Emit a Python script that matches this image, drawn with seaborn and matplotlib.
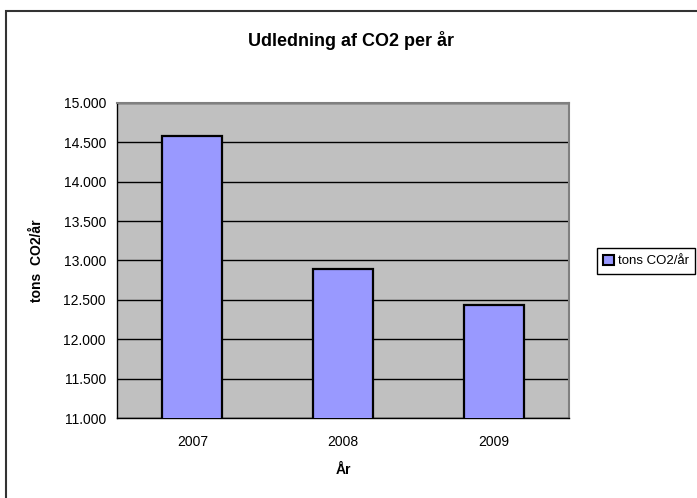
import seaborn as sns
import matplotlib.pyplot as plt
import matplotlib.patches as mpatches
from matplotlib.ticker import FuncFormatter, FixedLocator
import pandas as pd

years = ['2007', '2008', '2009']
co2_tons = [14580, 12890, 12430]
series_name = 'tons CO2/år'

df = pd.DataFrame({'year': years, 'co2': co2_tons})

sns.set_style('white')
plt.rcParams['font.family'] = ['Liberation Sans', 'DejaVu Sans']
plt.rcParams['text.color'] = 'black'
plt.rcParams['axes.labelcolor'] = 'black'
plt.rcParams['xtick.color'] = 'black'
plt.rcParams['ytick.color'] = 'black'

fig = plt.figure(figsize=(6.97, 4.98), dpi=100)
ax = fig.add_axes([117 / 697, 1 - 418 / 498, 452 / 697, 315 / 498])
ax.set_facecolor('#C0C0C0')

sns.barplot(data=df, x='year', y='co2', ax=ax, width=0.4, color='#9999FF',
            edgecolor='black', linewidth=1.6, saturation=1, zorder=3)

ax.set_ylim(11000, 15000)
ax.set_xlim(-0.5, 2.5)
ax.set_yticks(range(11000, 15001, 500))
ax.yaxis.set_major_formatter(FuncFormatter(lambda v, p: f'{int(v):,}'.replace(',', '.')))
ax.yaxis.grid(True, color='black', linewidth=1, zorder=1)
ax.set_axisbelow(True)

# x ticks between categories, labels at centres
ax.xaxis.set_minor_locator(FixedLocator([-0.5, 0.5, 1.5, 2.5]))
ax.tick_params(axis='x', which='major', length=0, labelsize=10, pad=12)
ax.tick_params(axis='x', which='minor', length=5, width=1, color='black', direction='out')
ax.tick_params(axis='y', length=5, width=1, color='black', direction='out', labelsize=10, pad=3)

for s in ['left', 'bottom']:
    ax.spines[s].set_color('black')
    ax.spines[s].set_linewidth(1)
for s in ['top', 'right']:
    ax.spines[s].set_color('#808080')
    ax.spines[s].set_linewidth(1.5)

ax.set_xlabel('År', fontsize=10, fontweight='bold', labelpad=10)
ax.set_ylabel('tons  CO2/år', fontsize=10, fontweight='bold', labelpad=14)

fig.text(351 / 697, 1 - 41 / 498, 'Udledning af CO2 per år', ha='center', va='center',
         fontsize=13, fontweight='bold')

handle = mpatches.Patch(facecolor='#9999FF', edgecolor='black', linewidth=1.5, label=series_name)
leg = fig.legend(handles=[handle], loc='center left', bbox_to_anchor=(590 / 697, 1 - 261 / 498),
                 fontsize=9.5, fancybox=False, framealpha=1, edgecolor='black',
                 handlelength=0.8, handleheight=0.8, handletextpad=0.3, borderpad=0.5)
leg.get_frame().set_linewidth(1)

# outer chart border
fig.patches.append(mpatches.Rectangle((6 / 697, -0.05), 1.0, 1 - 11 / 498 + 0.05,
                                      transform=fig.transFigure, fill=False,
                                      edgecolor='#333333', linewidth=1.5))

fig.savefig('out.png', dpi=100)
